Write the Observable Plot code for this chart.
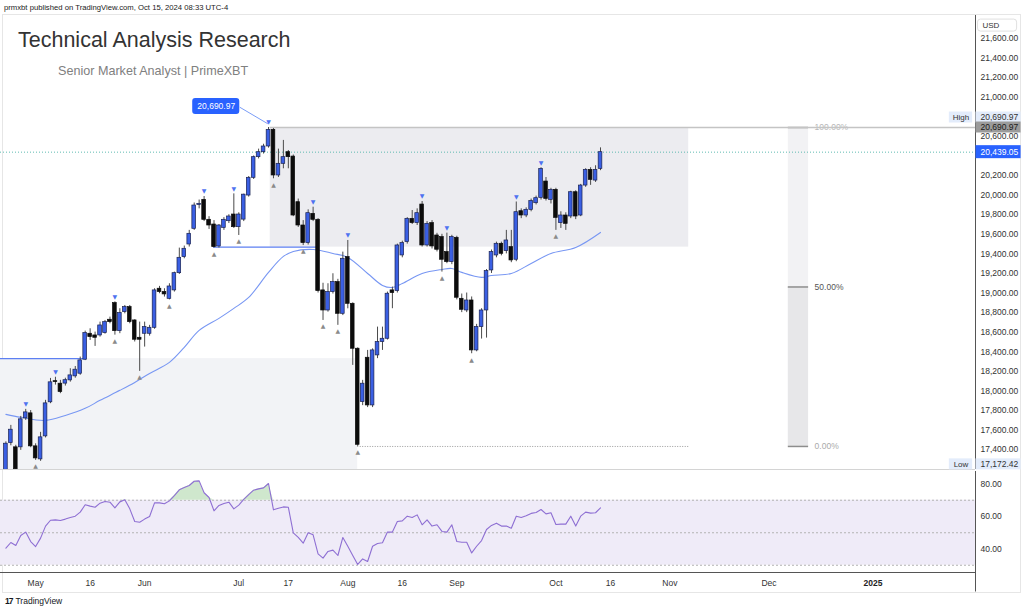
<!DOCTYPE html>
<html><head><meta charset="utf-8">
<script src="https://cdn.jsdelivr.net/npm/d3@7"></script>
<script src="https://cdn.jsdelivr.net/npm/@observablehq/plot@0.6"></script>
<style>
body{margin:0;background:#fff;width:1024px;height:611px;overflow:hidden;position:relative;font-family:"Liberation Sans",Arial,sans-serif;}
.abs{position:absolute;white-space:nowrap;line-height:1;}
#pub{left:4px;top:4px;font-size:7.7px;color:#222;}
#frame{left:2px;top:14px;width:1019px;height:579px;border:1px solid #e6e6e6;box-sizing:border-box;}
#title{left:18px;top:30px;font-size:21.5px;color:#333;}
#sub{left:58px;top:65px;font-size:12.6px;color:#808080;}
#main{left:0;top:14px;}
#rsi{left:0;top:470px;}
#foot{left:5px;top:597px;font-size:8.5px;color:#131722;}
#foot b{letter-spacing:-1px;margin-right:3px;}
</style></head><body>
<div id="pub" class="abs">prmxbt published on TradingView.com, Oct 15, 2024 08:33 UTC-4</div>
<div id="frame" class="abs"></div>
<div id="main" class="abs"></div>
<div id="rsi" class="abs"></div>
<div id="title" class="abs">Technical Analysis Research</div>
<div id="sub" class="abs">Senior Market Analyst | PrimeXBT</div>
<div id="foot" class="abs"><b>17</b>TradingView</div>
<script>
// ---- data: daily candles (trading days) ----
const dates = ["2024-04-23","2024-04-24","2024-04-25","2024-04-26","2024-04-29","2024-04-30",
"2024-05-01","2024-05-02","2024-05-03","2024-05-06","2024-05-07","2024-05-08","2024-05-09","2024-05-10","2024-05-13","2024-05-14","2024-05-15","2024-05-16","2024-05-17","2024-05-20","2024-05-21","2024-05-22","2024-05-23","2024-05-24","2024-05-28","2024-05-29","2024-05-30","2024-05-31",
"2024-06-03","2024-06-04","2024-06-05","2024-06-06","2024-06-07","2024-06-10","2024-06-11","2024-06-12","2024-06-13","2024-06-14","2024-06-17","2024-06-18","2024-06-20","2024-06-21","2024-06-24","2024-06-25","2024-06-26","2024-06-27","2024-06-28",
"2024-07-01","2024-07-02","2024-07-03","2024-07-05","2024-07-08","2024-07-09","2024-07-10","2024-07-11","2024-07-12","2024-07-15","2024-07-16","2024-07-17","2024-07-18","2024-07-19","2024-07-22","2024-07-23","2024-07-24","2024-07-25","2024-07-26","2024-07-29","2024-07-30","2024-07-31",
"2024-08-01","2024-08-02","2024-08-05","2024-08-06","2024-08-07","2024-08-08","2024-08-09","2024-08-12","2024-08-13","2024-08-14","2024-08-15","2024-08-16","2024-08-19","2024-08-20","2024-08-21","2024-08-22","2024-08-23","2024-08-26","2024-08-27","2024-08-28","2024-08-29","2024-08-30",
"2024-09-03","2024-09-04","2024-09-05","2024-09-06","2024-09-09","2024-09-10","2024-09-11","2024-09-12","2024-09-13","2024-09-16","2024-09-17","2024-09-18","2024-09-19","2024-09-20","2024-09-23","2024-09-24","2024-09-25","2024-09-26","2024-09-27","2024-09-30",
"2024-10-01","2024-10-02","2024-10-03","2024-10-04","2024-10-07","2024-10-08","2024-10-09","2024-10-10","2024-10-11","2024-10-14"];
const open = [17180,17468,17424,17424,17720,17771,17434,17301,17536,17884,
18100,18074,18075,18108,18149,18176,18319,18584,18567,18567,
18591,18727,18897,18611,18805,18856,18720,18543,18584,18584,
18645,19044,19010,18941,19027,19203,19367,19496,19656,19900,
19952,19748,19700,19476,19666,19734,19802,19673,19750,19996,
20177,20388,20439,20497,20667,20201,20320,20439,20394,19928,
19690,19510,19809,19748,19027,18822,19010,19112,18788,19367,
18890,18431,17887,18339,17852,18363,18499,18533,19027,19020,
19384,19520,19758,19714,19904,19486,19714,19588,19571,19418,
19316,19564,18941,18822,18924,18414,18652,18822,19231,19384,
19503,19428,19469,19340,19836,19792,19850,19918,19972,20139,
19952,20054,19714,19792,19782,20030,19792,20098,20258,20149,
20268];
const high = [17480,17648,17445,17740,17812,17800,17460,17577,17904,18128,
18140,18108,18130,18227,18250,18346,18611,18635,18601,18703,
18720,18754,18910,18840,18873,18873,18727,18703,18703,18670,
19044,19068,19044,19095,19214,19459,19480,19640,19920,19950,
19986,19780,19740,19700,19770,19800,20013,19820,20010,20190,
20400,20470,20520,20690.97,20680,20470,20559,20456,20410,19960,
19740,19850,19877,19760,19100,19095,19197,19140,19418,19537,
18900,18440,18108,18414,18430,18652,18652,19010,19061,19500,
19530,19770,19843,19860,19935,19730,19740,19610,19600,19612,
19590,19580,18990,19000,18960,18680,18840,19240,19440,19520,
19520,19640,19640,19930,19860,19870,19960,19990,20280,20180,
20070,20070,19830,19820,20040,20045,20110,20270,20280,20300,
20483];
const low = [17150,17440,17150,17393,17699,17420,17291,17281,17520,17870,
18060,17972,18050,18090,18130,18160,18310,18516,18455,18550,
18580,18686,18570,18585,18788,18686,18500,18200,18448,18560,
18630,18993,18959,18930,19010,19190,19350,19470,19640,19860,
19730,19650,19460,19460,19640,19710,19660,19588,19730,19980,
20160,20370,20420,20480,20167,20180,20269,20269,19780,19670,
19485,19490,19730,19000,18720,18805,18990,18670,18770,18839,
18261,17433,17850,17830,17830,18330,18414,18520,18840,19000,
19360,19500,19700,19690,19470,19470,19450,19420,19214,19300,
19290,18930,18800,18800,18380,18400,18530,18540,19200,19360,
19380,19400,19310,19320,19760,19770,19830,19900,19950,19940,
19910,19640,19660,19640,19760,19750,19780,20080,20100,20130,
20250];
const close = [17461,17604,17200,17710,17781,17434,17311,17526,17873,18088,
18090,17989,18110,18159,18217,18312,18591,18550,18543,18669,
18703,18703,18611,18795,18856,18703,18523,18523,18652,18645,
19027,19010,18986,19067,19203,19360,19452,19605,19894,19911,
19748,19690,19469,19690,19748,19782,19673,19802,20005,20177,
20388,20439,20497,20667,20201,20320,20388,20388,19792,19690,
19510,19816,19748,19020,18822,19010,19112,18788,19350,18890,
18431,17450,18074,17852,18414,18499,18533,18993,19000,19486,
19510,19758,19714,19816,19486,19707,19476,19442,19340,19316,
19571,18952,18829,18924,18414,18652,18822,19224,19418,19503,
19401,19537,19333,19826,19792,19850,19939,19969,20268,19962,
20054,19768,19792,19707,20030,19782,20098,20258,20156,20258,
20439.05];
// pivot markers (bar indices)
const pivotHighs = [4,10,22,40,46,53,62,69,84,89,103,108];
const pivotLows = [6,22,27,33,42,47,54,60,64,67,71,88,94,111];
// moving average read at sampled bars
const maIdx = [0,3,8,12,16,19,23,26,29,33,36,39,43,46,49,53,56,58,62,66,69,73,76,78,80,84,88,90,92,96,98,102,106,110,115,120];
const maVal = [17761,17730,17699,17750,17822,17904,18006,18087,18179,18292,18445,18618,18741,18843,18955,19211,19374,19425,19445,19404,19364,19200,19078,19057,19098,19200,19241,19251,19211,19160,19180,19200,19302,19404,19466,19619];
// RSI per bar
const rsi = [40.5,44.0,42.2,48.3,50.4,44.6,41.5,46.7,54.1,57.7,
57.9,57.5,58.4,59.4,60.2,62.7,67.2,66.4,65.7,68.2,
69.2,68.8,65.3,69.0,70.3,64.7,56.9,56.5,58.4,60.0,
68.4,68.4,67.8,69.6,72.9,76.4,77.8,79.1,81.7,81.9,
74.6,71.7,63.5,66.8,68.0,68.8,64.7,67.0,70.5,73.5,
76.2,77.0,77.6,80.3,64.1,65.1,65.9,65.7,49.9,47.1,
43.6,50.0,48.7,37.0,34.4,38.5,39.3,36.0,47.1,41.7,
36.0,30.5,33.9,32.3,41.7,43.4,43.8,50.4,50.4,56.9,
57.3,60.2,59.4,61.0,54.9,57.9,54.1,54.9,50.8,50.4,
54.9,44.6,44.2,44.2,37.6,41.7,45.2,52.0,54.5,55.9,
54.1,54.1,52.8,60.2,59.4,60.4,61.9,62.5,64.3,61.6,
62.3,55.1,55.3,55.3,60.2,54.1,60.2,62.7,62.1,62.3,
65.3];
// axes
const priceTicks = [17400,17600,17800,18000,18200,18400,18600,18800,19000,19200,19400,19600,19800,20000,20200,20600,21000,21200,21400,21600];
const rsiTicks = [40,60,80];
const timeTickIdx = [6,17,28,47,57,69,80,91,111,122,134,154,175];
const timeTickLabels = ["May","16","Jun","Jul","17","Aug","16","Sep","Oct","16","Nov","Dec","2025"];
// drawings
const highPrice = 20690.97, lowPrice = 17433, lastPrice = 20439.05, sessionLow = 17172.42;
const rangeLowTop = 18330, rangeHighBottom = 19469;

// ---- build ----
const X0 = -1.09, X1 = 195.68;
const Y0 = 17197.6, Y1 = 21835;
const candles = close.map((c, i) => ({i, date: dates[i], o: open[i], h: high[i], l: low[i], c}));
const isUp = d => d.c >= d.o;
const fmt = d3.format(",.2f");
const ma = maIdx.map((i, k) => ({i, v: maVal[k]}));
const rsiData = rsi.map((r, i) => ({i, r}));
const labelMap = new Map(timeTickIdx.map((d, k) => [d, timeTickLabels[k]]));
const font = "'Liberation Sans', Arial, sans-serif";
const blue = "#2962ff";
const fibMid = (highPrice + lowPrice) / 2;
const pxY = 0.0979; // px per price unit (for label boxes)
const boxH = 5.5 / pxY;

const main = Plot.plot({
  width: 1024, height: 456,
  marginLeft: 0, marginRight: 49, marginTop: 1, marginBottom: 1,
  x: {type: "linear", domain: [X0, X1], axis: null},
  y: {domain: [Y0, Y1], axis: null},
  style: {fontFamily: font, fontSize: "8.5px", overflow: "visible", background: "transparent"},
  marks: [
    // zones
    Plot.rect([0], {x1: X0, x2: 71, y1: Y0, y2: rangeLowTop, fill: "#f2f3f6"}),
    Plot.rect([0], {x1: 53.35, x2: 137.8, y1: rangeHighBottom, y2: highPrice, fill: "#ececf0"}),
    // fib retracement
    Plot.rect([0], {x1: 157.9, x2: 162, y1: fibMid, y2: highPrice, fill: "#f2f2f4"}),
    Plot.rect([0], {x1: 157.9, x2: 162, y1: lowPrice, y2: fibMid, fill: "#e7e7e9"}),
    Plot.ruleY([lowPrice, fibMid, highPrice], {x1: 157.9, x2: 162, stroke: "#8d8d8d", strokeWidth: 1.5}),
    Plot.text([{p: highPrice, t: "100.00%", c: "#b8b8b8"}, {p: fibMid, t: "50.00%", c: "#555"}, {p: lowPrice, t: "0.00%", c: "#aaa"}],
      {x: 162, y: "p", text: "t", fill: "c", dx: 6, textAnchor: "start", fontSize: 8.5}),
    // level lines
    Plot.ruleY([highPrice], {x1: 53.35, x2: X1, stroke: "#c4c4c4", strokeWidth: 1.3}),
    Plot.ruleY([lowPrice], {x1: 71, x2: 137.8, stroke: "#9a9a9a", strokeDasharray: "1,1.5"}),
    Plot.ruleY([rangeLowTop], {x1: X0, x2: 15.7, stroke: "#5d7ff2", strokeWidth: 1.3}),
    Plot.ruleY([rangeHighBottom], {x1: 41.9, x2: 62.7, stroke: "#5d7ff2", strokeWidth: 1.3}),
    Plot.ruleY([lastPrice], {x1: X0, x2: X1, stroke: "#4fb3a9", strokeWidth: 0.9, strokeDasharray: "1,2"}),
    // moving average
    Plot.line(ma, {x: "i", y: "v", stroke: "#7897f3", strokeWidth: 1.1, curve: "catmull-rom"}),
    // candles
    Plot.ruleX(candles, {x: "i", y1: "l", y2: "h", stroke: "#4a4a4a", strokeWidth: 1, clip: true}),
    Plot.rect(candles, {x1: d => d.i - 0.37, x2: d => d.i + 0.37, y1: "o", y2: "c",
      fill: d => isUp(d) ? "#3a5fe3" : "#0c0c0c", stroke: d => isUp(d) ? "#1a2250" : "#0c0c0c", strokeWidth: 0.7, clip: true}),
    // pivot markers
    Plot.text(pivotHighs.map(i => candles[i]), {x: "i", y: "h", text: () => "▼", dy: -5, fontSize: 6, fill: "#4f72f0", fontFamily: "DejaVu Sans"}),
    Plot.text(pivotLows.map(i => candles[i]), {x: "i", y: "l", text: () => "▲", dy: 6, fontSize: 6, fill: "#8a8a8a", fontFamily: "DejaVu Sans"}),
    // callout
    Plot.link([0], {x1: 47.2, y1: 20898, x2: 52.86, y2: 20729, stroke: "#7a9cf7", strokeWidth: 1}),
    Plot.rect([0], {x1: 37.7, x2: 47.2, y1: 20824, y2: 20987, fill: blue, rx: 3}),
    Plot.text([highPrice], {x: 42.45, y: 20905, text: d => fmt(d), fill: "#fff", fontSize: 8.5}),
    // price axis
    Plot.ruleX([X1], {stroke: "#555", strokeWidth: 1}),
    Plot.ruleY([Y0], {x1: X0, x2: X1, stroke: "#d4d4d4"}),
    Plot.axisY(priceTicks, {anchor: "right", tickSize: 0, tickPadding: 5, tickFormat: fmt, color: "#333", fontSize: 8.5, label: null}),
    // USD
    Plot.rect([0], {x1: X1 + 0.5, x2: X1 + 8.4, y1: 21732 - 6 / pxY, y2: 21732 + 6 / pxY, fill: "#fff", stroke: "#e0e0e0", rx: 3}),
    Plot.text(["USD"], {x: X1, y: 21732, dx: 7, textAnchor: "start", fontSize: 8, fill: "#333"}),
    // high / low / last labels
    Plot.rect([0], {x1: 190.4, x2: 195.1, y1: 20793 - boxH, y2: 20793 + boxH, fill: "#e3ecfb"}),
    Plot.text(["High"], {x: 192.75, y: 20793, fontSize: 8, fill: "#333"}),
    Plot.rect([0], {x1: X1 + 0.1, x2: X1 + 9.2, y1: 20793 - boxH, y2: 20793 + boxH, fill: "#e3ecfb"}),
    Plot.text([highPrice], {x: X1, y: 20793, dx: 5, textAnchor: "start", text: d => fmt(d), fontSize: 8.5, fill: "#333"}),
    Plot.rect([0], {x1: X1 + 0.1, x2: X1 + 9.2, y1: highPrice - boxH, y2: highPrice + boxH, fill: "#9b9b9b"}),
    Plot.text([highPrice], {x: X1, y: highPrice, dx: 5, textAnchor: "start", text: d => fmt(d), fontSize: 8.5, fill: "#1a1a1a"}),
    Plot.rect([0], {x1: X1 + 0.1, x2: X1 + 9.2, y1: lastPrice - 6.5 / pxY, y2: lastPrice + 6.5 / pxY, fill: blue}),
    Plot.text([lastPrice], {x: X1, y: lastPrice, dx: 5, textAnchor: "start", text: d => fmt(d), fontSize: 8.5, fill: "#fff"}),
    Plot.rect([0], {x1: 190.4, x2: 195.1, y1: 17250 - boxH, y2: 17250 + boxH, fill: "#e3ecfb"}),
    Plot.text(["Low"], {x: 192.75, y: 17250, fontSize: 8, fill: "#333"}),
    Plot.rect([0], {x1: X1 + 0.1, x2: X1 + 9.2, y1: 17250 - boxH, y2: 17250 + boxH, fill: "#e3ecfb"}),
    Plot.text([sessionLow], {x: X1, y: 17250, dx: 5, textAnchor: "start", text: d => fmt(d), fontSize: 8.5, fill: "#333"})
  ]
});
document.getElementById("main").appendChild(main);

const R0 = 25.54, R1 = 87.69;
const rsiPlot = Plot.plot({
  width: 1024, height: 122,
  marginLeft: 0, marginRight: 49, marginTop: 1, marginBottom: 20,
  x: {type: "linear", domain: [X0, X1], axis: null},
  y: {domain: [R0, R1], axis: null},
  style: {fontFamily: font, fontSize: "8.5px", overflow: "visible", background: "transparent"},
  marks: [
    Plot.rect([0], {x1: X0, x2: X1, y1: 30, y2: 70, fill: "#efebf8"}),
    Plot.ruleY([30, 50, 70], {stroke: "#b3b3b3", strokeDasharray: "2,2"}),
    Plot.areaY(rsiData, {x: "i", y1: 70, y2: d => Math.max(70, d.r), fill: "#cfe7cd"}),
    Plot.line(rsiData, {x: "i", y: "r", stroke: "#8e6fd3", strokeWidth: 1.1}),
    Plot.axisY(rsiTicks, {anchor: "right", tickSize: 0, tickPadding: 5, tickFormat: d => d.toFixed(2), color: "#333", fontSize: 8.5, label: null}),
    Plot.ruleY([R0], {x1: X0, x2: X1, stroke: "#555"}),
    Plot.ruleX([X1], {y1: R1, y2: R0 - 12, stroke: "#555"}),
    Plot.axisX(timeTickIdx.slice(0, -1), {anchor: "bottom", tickSize: 0, tickPadding: 7, tickFormat: d => labelMap.get(d), color: "#333", fontSize: 8.5, label: null}),
    Plot.axisX(timeTickIdx.slice(-1), {anchor: "bottom", tickSize: 0, tickPadding: 7, tickFormat: d => labelMap.get(d), color: "#222", fontSize: 8.5, fontWeight: "bold", label: null})
  ]
});
document.getElementById("rsi").appendChild(rsiPlot);
</script>
</body></html>
